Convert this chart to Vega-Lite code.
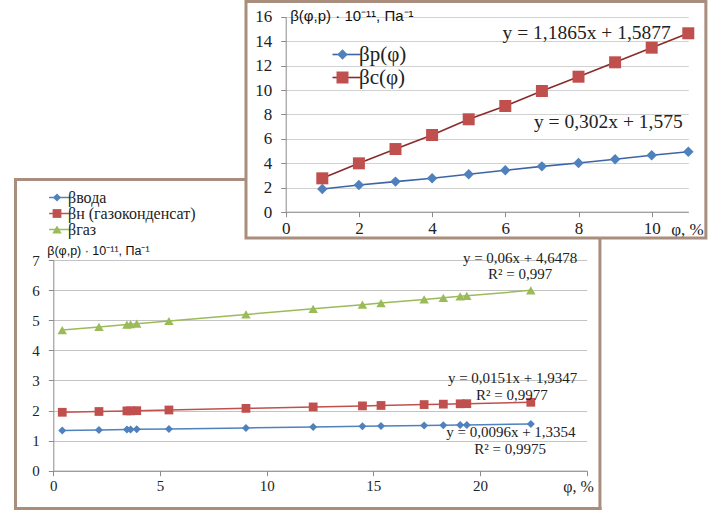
{
  "$schema": "https://vega.github.io/schema/vega-lite/v6.json",
  "width": 713,
  "height": 512,
  "padding": 0,
  "autosize": {"type": "none"},
  "background": "white",
  "config": {"view": {"stroke": null}},
  "datasets": {
    "bottom": [
      {"phi": 0.42, "series": "βвода", "beta": 1.339},
      {"phi": 2.14, "series": "βвода", "beta": 1.356},
      {"phi": 3.45, "series": "βвода", "beta": 1.368},
      {"phi": 3.62, "series": "βвода", "beta": 1.370},
      {"phi": 3.91, "series": "βвода", "beta": 1.373},
      {"phi": 5.42, "series": "βвода", "beta": 1.387},
      {"phi": 9.03, "series": "βвода", "beta": 1.422},
      {"phi": 12.18, "series": "βвода", "beta": 1.452},
      {"phi": 14.49, "series": "βвода", "beta": 1.474},
      {"phi": 15.36, "series": "βвода", "beta": 1.483},
      {"phi": 17.38, "series": "βвода", "beta": 1.502},
      {"phi": 18.28, "series": "βвода", "beta": 1.511},
      {"phi": 19.07, "series": "βвода", "beta": 1.518},
      {"phi": 19.38, "series": "βвода", "beta": 1.521},
      {"phi": 22.38, "series": "βвода", "beta": 1.550},
      {"phi": 0.42, "series": "βн (газоконденсат)", "beta": 1.941},
      {"phi": 2.14, "series": "βн (газоконденсат)", "beta": 1.967},
      {"phi": 3.45, "series": "βн (газоконденсат)", "beta": 1.987},
      {"phi": 3.62, "series": "βн (газоконденсат)", "beta": 1.989},
      {"phi": 3.91, "series": "βн (газоконденсат)", "beta": 1.994},
      {"phi": 5.42, "series": "βн (газоконденсат)", "beta": 2.017},
      {"phi": 9.03, "series": "βн (газоконденсат)", "beta": 2.071},
      {"phi": 12.18, "series": "βн (газоконденсат)", "beta": 2.119},
      {"phi": 14.49, "series": "βн (газоконденсат)", "beta": 2.153},
      {"phi": 15.36, "series": "βн (газоконденсат)", "beta": 2.167},
      {"phi": 17.38, "series": "βн (газоконденсат)", "beta": 2.197},
      {"phi": 18.28, "series": "βн (газоконденсат)", "beta": 2.211},
      {"phi": 19.07, "series": "βн (газоконденсат)", "beta": 2.223},
      {"phi": 19.38, "series": "βн (газоконденсат)", "beta": 2.227},
      {"phi": 22.38, "series": "βн (газоконденсат)", "beta": 2.273},
      {"phi": 0.42, "series": "βгаз", "beta": 4.673},
      {"phi": 2.14, "series": "βгаз", "beta": 4.776},
      {"phi": 3.45, "series": "βгаз", "beta": 4.855},
      {"phi": 3.62, "series": "βгаз", "beta": 4.865},
      {"phi": 3.91, "series": "βгаз", "beta": 4.883},
      {"phi": 5.42, "series": "βгаз", "beta": 4.973},
      {"phi": 9.03, "series": "βгаз", "beta": 5.190},
      {"phi": 12.18, "series": "βгаз", "beta": 5.379},
      {"phi": 14.49, "series": "βгаз", "beta": 5.517},
      {"phi": 15.36, "series": "βгаз", "beta": 5.570},
      {"phi": 17.38, "series": "βгаз", "beta": 5.691},
      {"phi": 18.28, "series": "βгаз", "beta": 5.745},
      {"phi": 19.07, "series": "βгаз", "beta": 5.792},
      {"phi": 19.38, "series": "βгаз", "beta": 5.811},
      {"phi": 22.38, "series": "βгаз", "beta": 5.991}
    ],
    "top": [
      {"phi": 1, "series": "βp(φ)", "beta": 1.885},
      {"phi": 2, "series": "βp(φ)", "beta": 2.21},
      {"phi": 3, "series": "βp(φ)", "beta": 2.49},
      {"phi": 4, "series": "βp(φ)", "beta": 2.76},
      {"phi": 5, "series": "βp(φ)", "beta": 3.09},
      {"phi": 6, "series": "βp(φ)", "beta": 3.42},
      {"phi": 7, "series": "βp(φ)", "beta": 3.74},
      {"phi": 8, "series": "βp(φ)", "beta": 4.02},
      {"phi": 9, "series": "βp(φ)", "beta": 4.32},
      {"phi": 10, "series": "βp(φ)", "beta": 4.65},
      {"phi": 11, "series": "βp(φ)", "beta": 4.94},
      {"phi": 1, "series": "βc(φ)", "beta": 2.76},
      {"phi": 2, "series": "βc(φ)", "beta": 3.99},
      {"phi": 3, "series": "βc(φ)", "beta": 5.16},
      {"phi": 4, "series": "βc(φ)", "beta": 6.31},
      {"phi": 5, "series": "βc(φ)", "beta": 7.6},
      {"phi": 6, "series": "βc(φ)", "beta": 8.69},
      {"phi": 7, "series": "βc(φ)", "beta": 9.92},
      {"phi": 8, "series": "βc(φ)", "beta": 11.09},
      {"phi": 9, "series": "βc(φ)", "beta": 12.27},
      {"phi": 10, "series": "βc(φ)", "beta": 13.47},
      {"phi": 11, "series": "βc(φ)", "beta": 14.65}
    ]
  },
  "layer": [
    {
      "data": {"name": "bottom"},
      "layer": [
        {
          "data": {"values": [{}]},
          "mark": {"type": "rule", "color": "#a98d7d", "strokeWidth": 3, "strokeCap": "square"},
          "encoding": {
            "x": {"datum": -1.772, "type": "quantitative", "scale": {"domain": [0, 25], "range": [53.3, 586.7], "nice": false, "zero": false}},
            "y": {"datum": -1.256, "type": "quantitative", "scale": {"domain": [0, 7], "range": [470.7, 260], "nice": false, "zero": false}},
            "y2": {"datum": 9.674}
          }
        },
        {
          "data": {"values": [{}]},
          "mark": {"type": "rule", "color": "#a98d7d", "strokeWidth": 3, "strokeCap": "square"},
          "encoding": {
            "x": {"datum": -1.772, "type": "quantitative", "scale": {"domain": [0, 25], "range": [53.3, 586.7], "nice": false, "zero": false}},
            "x2": {"datum": 8.985},
            "y": {"datum": 9.674, "type": "quantitative", "scale": {"domain": [0, 7], "range": [470.7, 260], "nice": false, "zero": false}}
          }
        },
        {
          "data": {"values": [{}]},
          "mark": {"type": "rule", "color": "#a98d7d", "strokeWidth": 3, "strokeCap": "square"},
          "encoding": {
            "x": {"datum": 25.62, "type": "quantitative", "scale": {"domain": [0, 25], "range": [53.3, 586.7], "nice": false, "zero": false}},
            "y": {"datum": -1.256, "type": "quantitative", "scale": {"domain": [0, 7], "range": [470.7, 260], "nice": false, "zero": false}},
            "y2": {"datum": 7.698}
          }
        },
        {
          "data": {"values": [{}]},
          "mark": {"type": "rule", "color": "#a98d7d", "strokeWidth": 3, "strokeCap": "square"},
          "encoding": {
            "x": {"datum": -1.772, "type": "quantitative", "scale": {"domain": [0, 25], "range": [53.3, 586.7], "nice": false, "zero": false}},
            "x2": {"datum": 25.62},
            "y": {"datum": -1.256, "type": "quantitative", "scale": {"domain": [0, 7], "range": [470.7, 260], "nice": false, "zero": false}}
          }
        },
        {
          "mark": {"type": "line", "strokeWidth": 1.5},
          "encoding": {
            "x": {
              "field": "phi", "type": "quantitative",
              "scale": {"domain": [0, 25], "range": [53.3, 586.7], "nice": false, "zero": false},
              "axis": {
                "orient": "bottom", "offset": -41.3, "values": [0, 5, 10, 15, 20, 25], "format": "d",
                "labelExpr": "datum.value == 25 ? '' : datum.label",
                "grid": false, "tickSize": 5, "tickColor": "#8c8c8c", "domainColor": "#8c8c8c",
                "labelFont": "Liberation Serif", "labelFontSize": 15, "labelColor": "#222", "labelPadding": 3,
                "labelFlush": false, "labelOverlap": false,
                "title": "φ, %", "titleX": 578, "titleY": 16, "titleAlign": "center", "titleBaseline": "middle",
                "titleFont": "Liberation Serif", "titleFontSize": 16, "titleFontWeight": "normal", "titleColor": "#222"
              }
            },
            "y": {
              "field": "beta", "type": "quantitative",
              "scale": {"domain": [0, 7], "range": [470.7, 260], "nice": false, "zero": false},
              "axis": {
                "orient": "left", "offset": -53.3, "values": [0, 1, 2, 3, 4, 5, 6, 7], "format": "d",
                "grid": true, "gridColor": "#c4c4c4", "gridWidth": 1,
                "tickSize": 5, "tickColor": "#8c8c8c", "domainColor": "#8c8c8c",
                "labelFont": "Liberation Serif", "labelFontSize": 15, "labelColor": "#222", "labelPadding": 9,
                "title": "β(φ,p) · 10⁻¹¹, Па⁻¹", "titleAngle": 0, "titleX": -6.6, "titleY": 250,
                "titleAlign": "left", "titleBaseline": "middle",
                "titleFont": "Liberation Sans", "titleFontSize": 12.5, "titleFontWeight": "normal", "titleColor": "#111"
              }
            },
            "stroke": {
              "field": "series", "type": "nominal",
              "sort": ["βвода", "βн (газоконденсат)", "βгаз"],
              "scale": {"range": ["#4F81BD", "#C0504D", "#9BBB59"]},
              "legend": {
                "orient": "none", "legendX": 52.5, "legendY": 189.5, "title": null, "padding": 0,
                "labelFont": "Liberation Serif", "labelFontSize": 16, "labelExpr": "''",
                "symbolType": "M-3.8,0H3.8", "symbolSize": 36, "symbolStrokeWidth": 1.5,
                "labelOffset": 0, "rowPadding": 0
              }
            }
          }
        },
        {
          "mark": {"type": "point", "filled": true, "opacity": 1},
          "encoding": {
            "x": {"field": "phi", "type": "quantitative", "scale": {"domain": [0, 25], "range": [53.3, 586.7], "nice": false, "zero": false}},
            "y": {"field": "beta", "type": "quantitative", "scale": {"domain": [0, 7], "range": [470.7, 260], "nice": false, "zero": false}},
            "color": {
              "field": "series", "type": "nominal",
              "scale": {"domain": ["βвода", "βн (газоконденсат)", "βгаз"], "range": ["#4F81BD", "#C0504D", "#9BBB59"]},
              "legend": {
                "orient": "none", "legendX": 49, "legendY": 189.5, "title": null, "padding": 0,
                "labelFont": "Liberation Serif", "labelFontSize": 16, "labelColor": "#222",
                "labelOffset": 3, "rowPadding": 0
              }
            },
            "shape": {"field": "series", "type": "nominal", "scale": {"domain": ["βвода", "βн (газоконденсат)", "βгаз"], "range": ["diamond", "square", "triangle-up"]}, "legend": null},
            "size": {"field": "series", "type": "nominal", "scale": {"domain": ["βвода", "βн (газоконденсат)", "βгаз"], "range": [64, 90, 95]}, "legend": null}
          }
        },
        {
          "transform": [{"filter": "datum.series === 'βгаз' && datum.phi > 22"}],
          "mark": {"type": "text", "text": "y = 0,06x + 4,6478", "dx": -10.7, "dy": -32.6, "font": "Liberation Serif", "fontSize": 15, "color": "#222", "align": "center", "baseline": "middle"},
          "encoding": {
            "x": {"field": "phi", "type": "quantitative", "scale": {"domain": [0, 25], "range": [53.3, 586.7], "nice": false, "zero": false}},
            "y": {"field": "beta", "type": "quantitative", "scale": {"domain": [0, 7], "range": [470.7, 260], "nice": false, "zero": false}}
          }
        },
        {
          "transform": [{"filter": "datum.series === 'βгаз' && datum.phi > 22"}],
          "mark": {"type": "text", "text": "R² = 0,997", "dx": -10.7, "dy": -16.6, "font": "Liberation Serif", "fontSize": 15, "color": "#222", "align": "center", "baseline": "middle"},
          "encoding": {
            "x": {"field": "phi", "type": "quantitative", "scale": {"domain": [0, 25], "range": [53.3, 586.7], "nice": false, "zero": false}},
            "y": {"field": "beta", "type": "quantitative", "scale": {"domain": [0, 7], "range": [470.7, 260], "nice": false, "zero": false}}
          }
        },
        {
          "transform": [{"filter": "datum.series === 'βн (газоконденсат)' && datum.phi > 22"}],
          "mark": {"type": "text", "text": "y = 0,0151x + 1,9347", "dx": -18.2, "dy": -24.5, "font": "Liberation Serif", "fontSize": 15, "color": "#222", "align": "center", "baseline": "middle"},
          "encoding": {
            "x": {"field": "phi", "type": "quantitative", "scale": {"domain": [0, 25], "range": [53.3, 586.7], "nice": false, "zero": false}},
            "y": {"field": "beta", "type": "quantitative", "scale": {"domain": [0, 7], "range": [470.7, 260], "nice": false, "zero": false}}
          }
        },
        {
          "transform": [{"filter": "datum.series === 'βн (газоконденсат)' && datum.phi > 22"}],
          "mark": {"type": "text", "text": "R² = 0,9977", "dx": -19, "dy": -7, "font": "Liberation Serif", "fontSize": 15, "color": "#222", "align": "center", "baseline": "middle"},
          "encoding": {
            "x": {"field": "phi", "type": "quantitative", "scale": {"domain": [0, 25], "range": [53.3, 586.7], "nice": false, "zero": false}},
            "y": {"field": "beta", "type": "quantitative", "scale": {"domain": [0, 7], "range": [470.7, 260], "nice": false, "zero": false}}
          }
        },
        {
          "transform": [{"filter": "datum.series === 'βвода' && datum.phi > 22"}],
          "mark": {"type": "text", "text": "y = 0,0096x + 1,3354", "dx": -19.9, "dy": 8.2, "font": "Liberation Serif", "fontSize": 15, "color": "#222", "align": "center", "baseline": "middle"},
          "encoding": {
            "x": {"field": "phi", "type": "quantitative", "scale": {"domain": [0, 25], "range": [53.3, 586.7], "nice": false, "zero": false}},
            "y": {"field": "beta", "type": "quantitative", "scale": {"domain": [0, 7], "range": [470.7, 260], "nice": false, "zero": false}}
          }
        },
        {
          "transform": [{"filter": "datum.series === 'βвода' && datum.phi > 22"}],
          "mark": {"type": "text", "text": "R² = 0,9975", "dx": -20.7, "dy": 24.8, "font": "Liberation Serif", "fontSize": 15, "color": "#222", "align": "center", "baseline": "middle"},
          "encoding": {
            "x": {"field": "phi", "type": "quantitative", "scale": {"domain": [0, 25], "range": [53.3, 586.7], "nice": false, "zero": false}},
            "y": {"field": "beta", "type": "quantitative", "scale": {"domain": [0, 7], "range": [470.7, 260], "nice": false, "zero": false}}
          }
        }
      ]
    },
    {
      "data": {"name": "top"},
      "layer": [
        {
          "data": {"values": [{}]},
          "mark": {"type": "rect", "filled": false, "stroke": "#a98d7d", "strokeWidth": 3},
          "encoding": {
            "x": {"datum": -1.085, "type": "quantitative", "scale": {"domain": [0, 11], "range": [285.7, 688.3], "nice": false, "zero": false}},
            "x2": {"datum": 11.48},
            "y": {"datum": -2.13, "type": "quantitative", "scale": {"domain": [0, 16], "range": [212, 16.8], "nice": false, "zero": false}},
            "y2": {"datum": 17.25}
          }
        },
        {
          "mark": {"type": "line", "strokeWidth": 1.6},
          "encoding": {
            "x": {
              "field": "phi", "type": "quantitative",
              "scale": {"domain": [0, 11], "range": [285.7, 688.3], "nice": false, "zero": false},
              "axis": {
                "orient": "bottom", "offset": -300.3, "values": [0, 2, 4, 6, 8, 10], "format": "d",
                "grid": false, "tickSize": 5, "tickColor": "#8c8c8c", "domainColor": "#8c8c8c",
                "labelFont": "Liberation Serif", "labelFontSize": 17, "labelColor": "#222", "labelPadding": 4,
                "labelFlush": false, "labelOverlap": false,
                "title": "φ, %", "titleX": 687, "titleY": 18, "titleAlign": "center", "titleBaseline": "middle",
                "titleFont": "Liberation Serif", "titleFontSize": 17, "titleFontWeight": "normal", "titleColor": "#222"
              }
            },
            "y": {
              "field": "beta", "type": "quantitative",
              "scale": {"domain": [0, 16], "range": [212, 16.8], "nice": false, "zero": false},
              "axis": {
                "orient": "left", "offset": -285.7, "values": [0, 2, 4, 6, 8, 10, 12, 14, 16], "format": "d",
                "grid": true, "gridColor": "#d2d2d2", "gridWidth": 1,
                "tickSize": 5, "tickColor": "#8c8c8c", "domainColor": "#8c8c8c",
                "labelFont": "Liberation Serif", "labelFontSize": 17, "labelColor": "#222", "labelPadding": 9,
                "title": "β(φ,p) · 10⁻¹¹, Па⁻¹", "titleAngle": 0, "titleX": 4, "titleY": 15,
                "titleAlign": "left", "titleBaseline": "middle",
                "titleFont": "Liberation Sans", "titleFontSize": 15, "titleFontWeight": "normal", "titleColor": "#111"
              }
            },
            "stroke": {
              "field": "series", "type": "nominal",
              "sort": ["βp(φ)", "βc(φ)"],
              "scale": {"range": ["#3d64a8", "#8a2b2b"]},
              "legend": {
                "orient": "none", "legendX": 336, "legendY": 44, "title": null, "padding": 0,
                "labelFont": "Liberation Serif", "labelFontSize": 21, "labelExpr": "''",
                "symbolType": "M-3.5,0H3.5", "symbolSize": 64, "symbolStrokeWidth": 1.6,
                "labelOffset": 0, "rowPadding": 1
              }
            }
          }
        },
        {
          "mark": {"type": "point", "filled": true, "opacity": 1},
          "encoding": {
            "x": {"field": "phi", "type": "quantitative", "scale": {"domain": [0, 11], "range": [285.7, 688.3], "nice": false, "zero": false}},
            "y": {"field": "beta", "type": "quantitative", "scale": {"domain": [0, 16], "range": [212, 16.8], "nice": false, "zero": false}},
            "color": {
              "field": "series", "type": "nominal",
              "scale": {"domain": ["βp(φ)", "βc(φ)"], "range": ["#4F81BD", "#C0504D"]},
              "legend": {
                "orient": "none", "legendX": 332, "legendY": 44, "title": null, "padding": 0,
                "labelFont": "Liberation Serif", "labelFontSize": 21, "labelColor": "#222",
                "labelOffset": 6, "rowPadding": 1
              }
            },
            "shape": {"field": "series", "type": "nominal", "scale": {"domain": ["βp(φ)", "βc(φ)"], "range": ["diamond", "square"]}, "legend": null},
            "size": {"field": "series", "type": "nominal", "scale": {"domain": ["βp(φ)", "βc(φ)"], "range": [110, 144]}, "legend": null}
          }
        },
        {
          "transform": [{"filter": "datum.series === 'βc(φ)' && datum.phi > 10.5"}],
          "mark": {"type": "text", "text": "y = 1,1865x + 1,5877", "dx": -101.6, "dy": 0, "font": "Liberation Serif", "fontSize": 19.5, "color": "#222", "align": "center", "baseline": "middle"},
          "encoding": {
            "x": {"field": "phi", "type": "quantitative", "scale": {"domain": [0, 11], "range": [285.7, 688.3], "nice": false, "zero": false}},
            "y": {"field": "beta", "type": "quantitative", "scale": {"domain": [0, 16], "range": [212, 16.8], "nice": false, "zero": false}}
          }
        },
        {
          "transform": [{"filter": "datum.series === 'βp(φ)' && datum.phi > 10.5"}],
          "mark": {"type": "text", "text": "y = 0,302x + 1,575", "dx": -80, "dy": -30, "font": "Liberation Serif", "fontSize": 19.5, "color": "#222", "align": "center", "baseline": "middle"},
          "encoding": {
            "x": {"field": "phi", "type": "quantitative", "scale": {"domain": [0, 11], "range": [285.7, 688.3], "nice": false, "zero": false}},
            "y": {"field": "beta", "type": "quantitative", "scale": {"domain": [0, 16], "range": [212, 16.8], "nice": false, "zero": false}}
          }
        }
      ]
    }
  ],
  "resolve": {"scale": {"x": "independent", "y": "independent", "color": "independent", "stroke": "independent", "shape": "independent", "size": "independent"}}
}
